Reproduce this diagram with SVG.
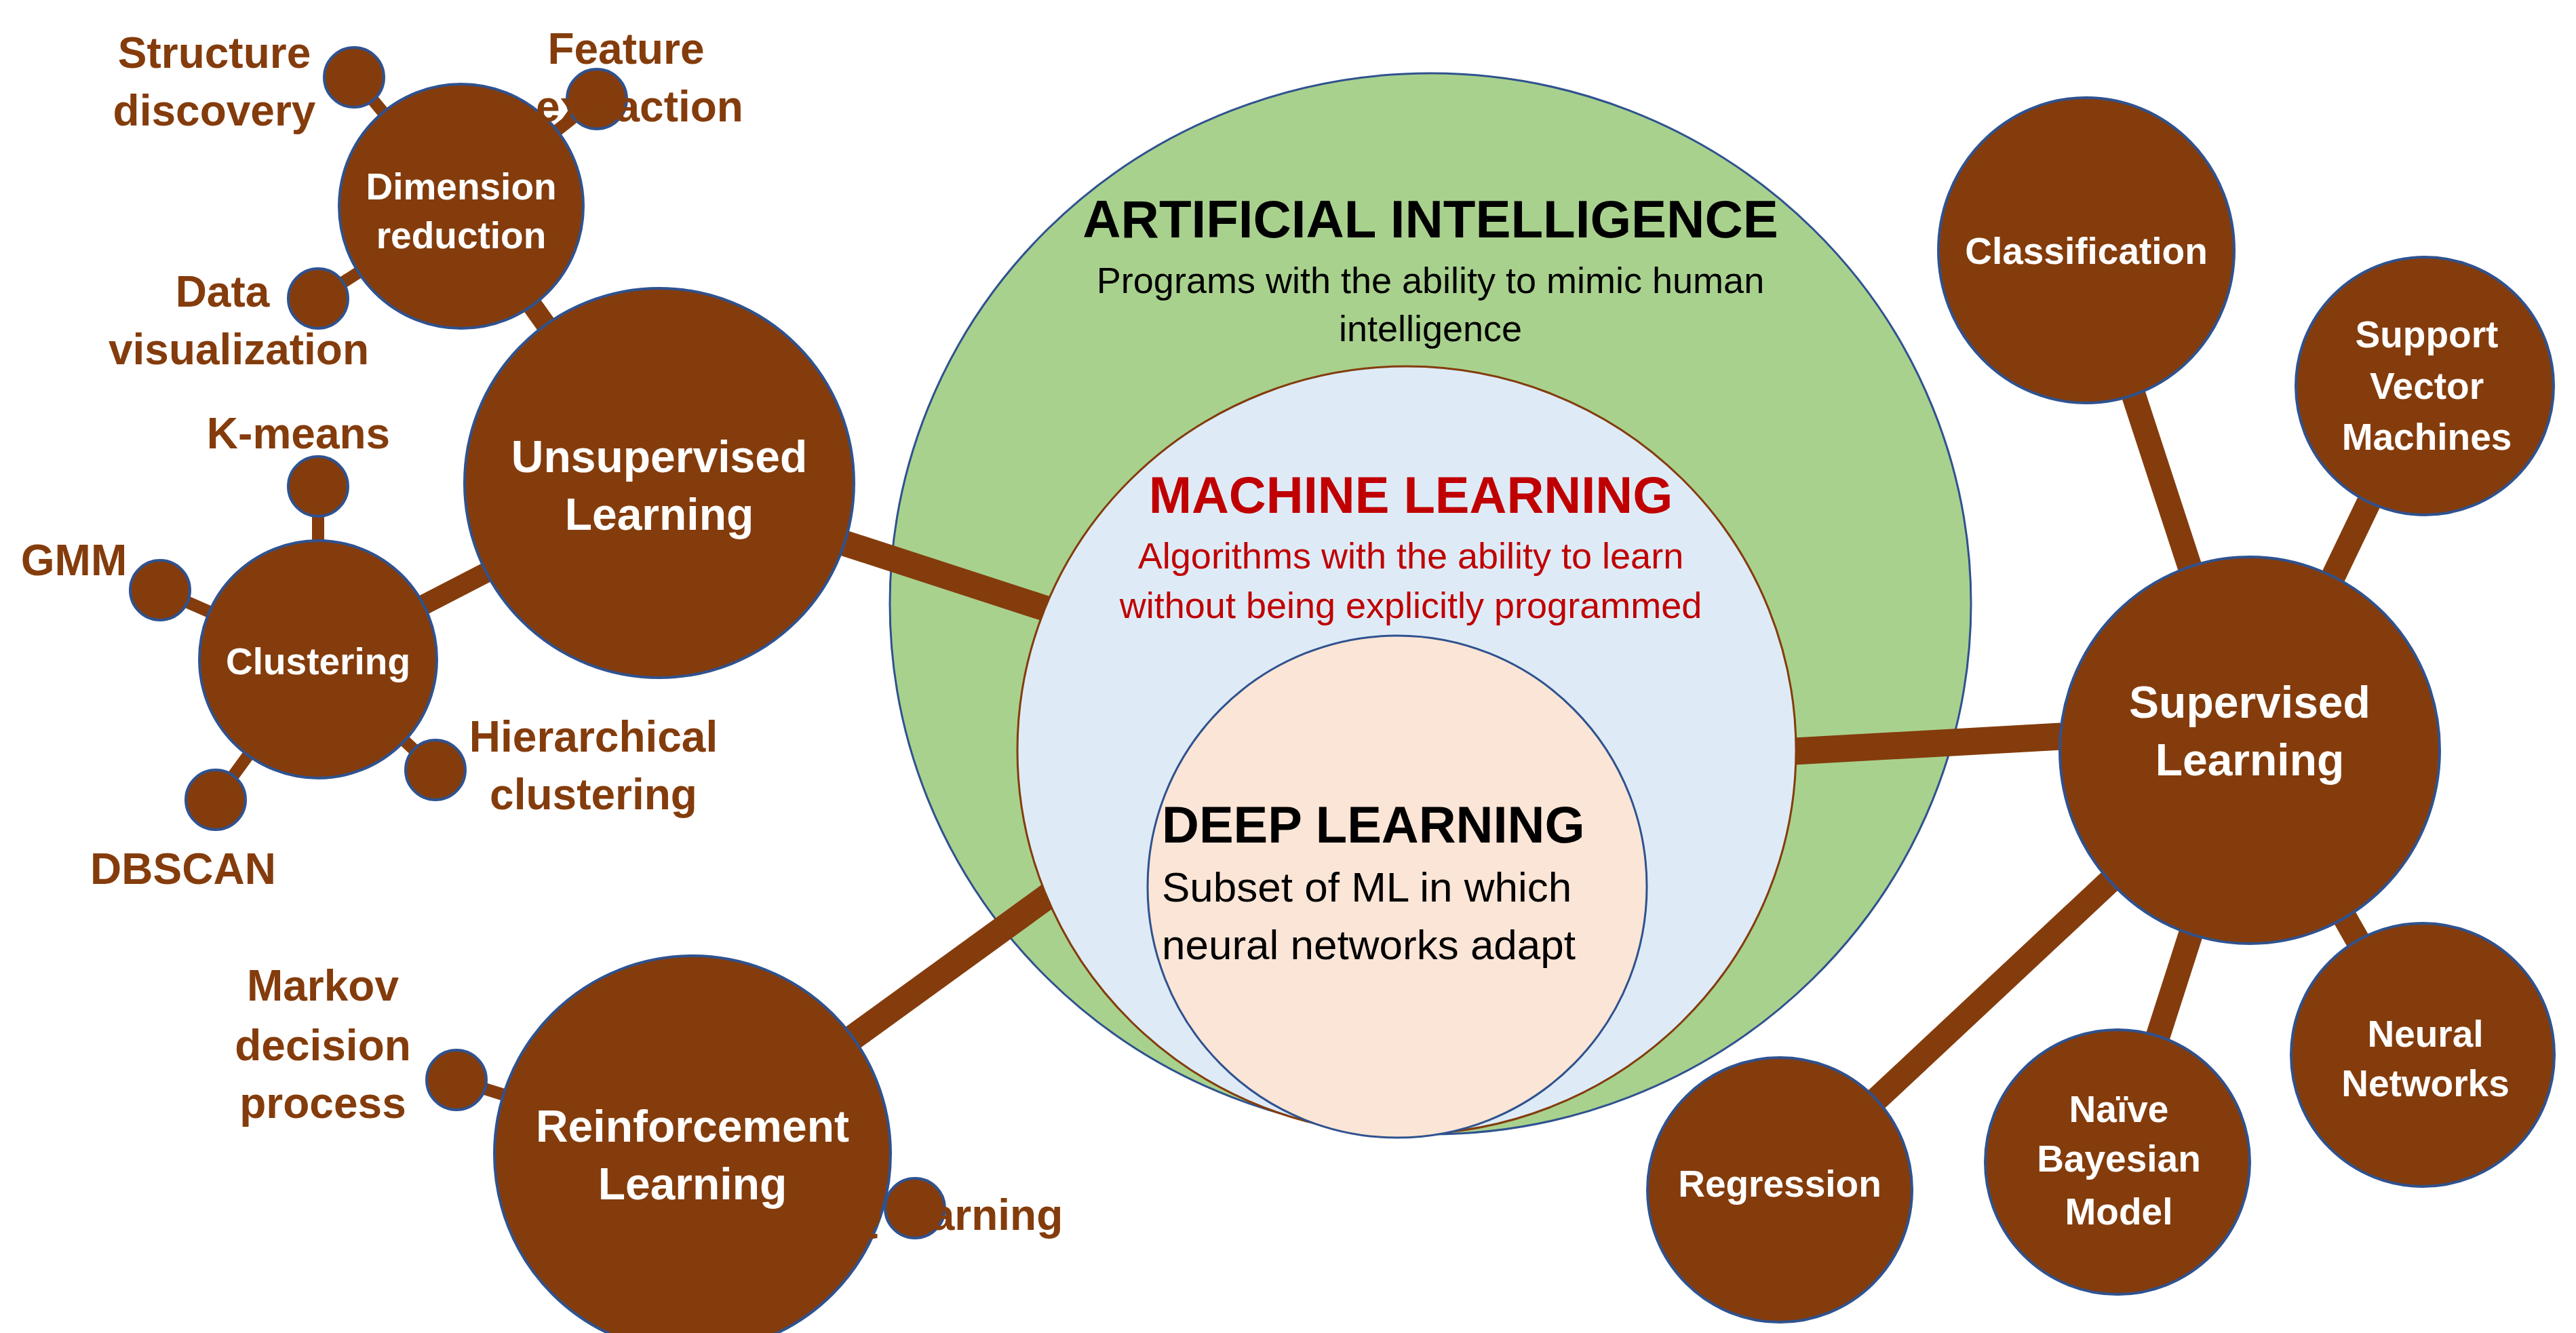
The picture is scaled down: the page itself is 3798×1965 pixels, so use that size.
<svg xmlns="http://www.w3.org/2000/svg" width="3798" height="1965" viewBox="0 0 3798 1965">
<style>
.n{fill:#843C0C;stroke:#2F528F;stroke-width:4}
.w{font-family:"Liberation Sans",Arial,sans-serif;font-weight:bold;fill:#fff;text-anchor:middle}
.b{font-family:"Liberation Sans",Arial,sans-serif;font-weight:bold;fill:#843C0C;text-anchor:middle;font-size:64px}
.c line{stroke:#843C0C;stroke-linecap:butt}
.h{font-family:"Liberation Sans",Arial,sans-serif;text-anchor:middle}
</style>
<rect width="3798" height="1965" fill="#fff"/>
<g id="ai"><ellipse cx="2109" cy="890" rx="797" ry="782" fill="#A9D18E" stroke="#2F528F" stroke-width="3"/></g>
<g id="connectors" class="c">
<line x1="972" y1="712" x2="1560" y2="903" stroke-width="38"/>
<line x1="1021" y1="1701" x2="1560" y2="1310" stroke-width="38"/>
<line x1="2600" y1="1110" x2="3317" y2="1070" stroke-width="40"/>
<line x1="3317" y1="1106" x2="3076" y2="369" stroke-width="36"/>
<line x1="3317" y1="1106" x2="3575" y2="569" stroke-width="36"/>
<line x1="3317" y1="1106" x2="3572" y2="1555" stroke-width="36"/>
<line x1="3317" y1="1106" x2="3122" y2="1713" stroke-width="36"/>
<line x1="3317" y1="1106" x2="2624" y2="1754" stroke-width="36"/>
<line x1="972" y1="712" x2="680" y2="304" stroke-width="30"/>
<line x1="972" y1="712" x2="469" y2="972" stroke-width="30"/>
<line x1="680" y1="304" x2="522" y2="114" stroke-width="18"/>
<line x1="680" y1="304" x2="880" y2="146" stroke-width="18"/>
<line x1="680" y1="304" x2="469" y2="440" stroke-width="18"/>
<line x1="469" y1="972" x2="469" y2="717" stroke-width="18"/>
<line x1="469" y1="972" x2="236" y2="870" stroke-width="18"/>
<line x1="469" y1="972" x2="642" y2="1135" stroke-width="18"/>
<line x1="469" y1="972" x2="318" y2="1179" stroke-width="18"/>
<line x1="1021" y1="1701" x2="673" y2="1592" stroke-width="18"/>
<line x1="1021" y1="1701" x2="1349" y2="1781" stroke-width="18"/>
</g>
<g id="ml"><ellipse cx="2074" cy="1106" rx="574" ry="566" fill="#DEEBF7" stroke="#843C0C" stroke-width="3"/></g>
<g id="dl"><ellipse cx="2060" cy="1307" rx="368" ry="370" fill="#FBE5D6" stroke="#2F528F" stroke-width="3"/></g>
<g id="ai-text" class="h">
<text x="2109" y="350" font-size="78" font-weight="bold" fill="#000">ARTIFICIAL INTELLIGENCE</text>
<text x="2109" y="432" font-size="54" fill="#000">Programs with the ability to mimic human</text>
<text x="2109" y="503" font-size="54" fill="#000">intelligence</text>
</g>
<g id="ml-text" class="h">
<text x="2080" y="756" font-size="76" font-weight="bold" fill="#C00000">MACHINE LEARNING</text>
<text x="2080" y="838" font-size="54" fill="#C00000">Algorithms with the ability to learn</text>
<text x="2080" y="911" font-size="54" fill="#C00000">without being explicitly programmed</text>
</g>
<g id="dl-text" class="h" text-anchor="start">
<text x="1713" y="1242" font-size="76" font-weight="bold" fill="#000" text-anchor="start">DEEP LEARNING</text>
<text x="1713" y="1329" font-size="62" fill="#000" text-anchor="start">Subset of ML in which</text>
<text x="1713" y="1414" font-size="62" fill="#000" text-anchor="start">neural networks adapt</text>
</g>
<g id="unsupervised"><circle class="n" cx="972" cy="712" r="287"/><text class="w" font-size="66" x="972" y="696">Unsupervised</text><text class="w" font-size="66" x="972" y="781">Learning</text></g>
<g id="dimension"><circle class="n" cx="680" cy="304" r="180"/><text class="w" font-size="55" x="680" y="294">Dimension</text><text class="w" font-size="55" x="680" y="366">reduction</text></g>
<g id="clustering"><circle class="n" cx="469" cy="972" r="175"/><text class="w" font-size="55" x="469" y="994">Clustering</text></g>
<g id="reinforcement"><circle class="n" cx="1021" cy="1701" r="292"/><text class="w" font-size="66" x="1021" y="1683">Reinforcement</text><text class="w" font-size="66" x="1021" y="1768">Learning</text></g>
<g id="supervised"><ellipse class="n" cx="3317" cy="1106" rx="280" ry="285"/><text class="w" font-size="66" x="3317" y="1058">Supervised</text><text class="w" font-size="66" x="3317" y="1143">Learning</text></g>
<g id="classification"><ellipse class="n" cx="3076" cy="369" rx="218" ry="225"/><text class="w" font-size="55" x="3076" y="389">Classification</text></g>
<g id="svm"><circle class="n" cx="3575" cy="569" r="190"/><text class="w" font-size="55" x="3578" y="512">Support</text><text class="w" font-size="55" x="3578" y="588">Vector</text><text class="w" font-size="55" x="3578" y="663">Machines</text></g>
<g id="neural"><circle class="n" cx="3572" cy="1555" r="194"/><text class="w" font-size="55" x="3576" y="1543">Neural</text><text class="w" font-size="55" x="3576" y="1616">Networks</text></g>
<g id="bayes"><circle class="n" cx="3122" cy="1713" r="195"/><text class="w" font-size="55" x="3124" y="1654">Naïve</text><text class="w" font-size="55" x="3124" y="1727">Bayesian</text><text class="w" font-size="55" x="3124" y="1805">Model</text></g>
<g id="regression"><circle class="n" cx="2624" cy="1754" r="195"/><text class="w" font-size="55" x="2624" y="1764">Regression</text></g>
<g id="structure"><circle class="n" cx="522" cy="114" r="44"/><text class="b" x="316" y="100">Structure</text><text class="b" x="316" y="185">discovery</text></g>
<g id="feature"><circle class="n" cx="880" cy="146" r="44"/><text class="b" x="923" y="94" text-anchor="start">Feature</text><text class="b" x="943" y="179" text-anchor="start">extraction</text></g>
<g id="datavis"><circle class="n" cx="469" cy="440" r="44"/><text class="b" x="328" y="452">Data</text><text class="b" x="352" y="537">visualization</text></g>
<g id="kmeans"><circle class="n" cx="469" cy="717" r="44"/><text class="b" x="440" y="661">K-means</text></g>
<g id="gmm"><circle class="n" cx="236" cy="870" r="44"/><text class="b" x="109" y="848">GMM</text></g>
<g id="hier"><circle class="n" cx="642" cy="1135" r="44"/><text class="b" x="875" y="1108">Hierarchical</text><text class="b" x="875" y="1193">clustering</text></g>
<g id="dbscan"><circle class="n" cx="318" cy="1179" r="44"/><text class="b" x="270" y="1303">DBSCAN</text></g>
<g id="markov"><circle class="n" cx="673" cy="1592" r="44"/><text class="b" x="476" y="1475">Markov</text><text class="b" x="476" y="1563">decision</text><text class="b" x="476" y="1648">process</text></g>
<g id="qlearn"><circle class="n" cx="1349" cy="1781" r="44"/><text class="b" x="1409" y="1813" text-anchor="start">Q learning</text></g>
</svg>
